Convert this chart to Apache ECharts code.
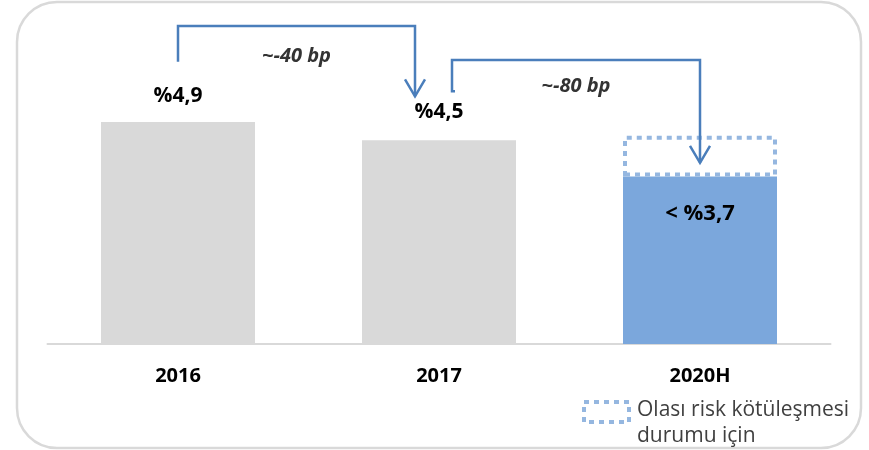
<!DOCTYPE html>
<html>
<head>
<meta charset="utf-8">
<script src="https://cdn.jsdelivr.net/npm/echarts@6/dist/echarts.min.js"></script>
<style>
  html, body { margin: 0; padding: 0; background: #ffffff; }
  #chart { width: 869px; height: 450px; }
</style>
</head>
<body>
<div id="chart"></div>
<script>
// Ratio by year, with the possible deterioration stacked on the last bar
const categories = ['2016', '2017', '2020H'];
const ratioValues = [4.9, 4.5, 3.7];
const riskValues = ['-', '-', 0.9];
const valueLabels = ['%4,9', '%4,5', '< %3,7'];
const riskLegendText = 'Olası risk kötüleşmesi\ndurumu için';
const changeLabels = ['~-40 bp', '~-80 bp'];

const FONT = '"Open Sans", "DejaVu Sans", sans-serif';
const GRAY = '#d9d9d9';
const BLUE = '#7ba7dc';
const DOT = '#95b7e0';
const ARROW = '#4a7ebb';

const chart = echarts.init(document.getElementById('chart'), null, { renderer: 'canvas' });

const labelDistance = [16, 18];

const option = {
  animation: false,
  backgroundColor: '#ffffff',
  grid: { left: 47.5, right: 38.5, top: 27, bottom: 106, containLabel: false },
  xAxis: {
    type: 'category',
    data: categories,
    axisLine: { show: true, lineStyle: { color: GRAY, width: 2 } },
    axisTick: { show: false },
    axisLabel: {
      margin: 22,
      color: '#000000',
      fontFamily: FONT,
      fontWeight: 'bold',
      fontSize: 20
    }
  },
  yAxis: {
    type: 'value',
    min: 0,
    max: 7,
    show: false,
    splitLine: { show: false }
  },
  series: [
    {
      name: 'ratio',
      type: 'bar',
      stack: 'total',
      barWidth: 154,
      data: ratioValues.map((v, i) => {
        const last = i === ratioValues.length - 1;
        return {
          value: v,
          itemStyle: { color: last ? BLUE : GRAY },
          label: last ? {
            show: true,
            position: 'insideTop',
            distance: 26,
            formatter: valueLabels[i],
            color: '#000000',
            fontFamily: FONT,
            fontWeight: 'bold',
            fontSize: 22
          } : {
            show: true,
            position: 'top',
            distance: labelDistance[i],
            formatter: valueLabels[i],
            color: '#000000',
            fontFamily: FONT,
            fontWeight: 'bold',
            fontSize: 21
          }
        };
      })
    },
    {
      name: 'risk',
      type: 'bar',
      stack: 'total',
      barWidth: 154,
      data: riskValues,
      itemStyle: {
        color: 'rgba(0,0,0,0)',
        borderColor: DOT,
        borderWidth: 4,
        borderType: [5, 5]
      },
      z: 3
    }
  ]
};

chart.setOption(option);

// Bracket arrows showing the change between periods, anchored to the axes
function px(catIndex, value) {
  return chart.convertToPixel({ xAxisIndex: 0, yAxisIndex: 0 }, [catIndex, value]);
}

const arrowDefs = [
  { from: 0, fromDx: 0, to: 1, toDx: -24, startV: 6.23, topV: 7.02, tipV: 5.47, textV: 6.36, hook: false },
  { from: 1, fromDx: 13, to: 2, toDx: 0, startV: 5.58, topV: 6.27, tipV: 4.0, textV: 5.7, hook: true }
];

const graphics = [];

// rounded frame around the chart
graphics.push({
  type: 'rect',
  shape: { x: 17, y: 2, width: 844, height: 446, r: 40 },
  style: { fill: 'none', stroke: '#d9d9d9', lineWidth: 2.5 },
  z: 0,
  silent: true
});

arrowDefs.forEach((a, k) => {
  const s = px(a.from, a.startV);
  const t = px(a.from, a.topV);
  const e = px(a.to, a.tipV);
  const x1 = s[0] + a.fromDx;
  const x2 = e[0] + a.toDx;
  const yTop = t[1];
  const points = [];
  if (a.hook) points.push([x1 + 3, s[1]]);
  points.push([x1, s[1]], [x1, yTop], [x2, yTop], [x2, e[1]]);
  graphics.push({
    type: 'polyline',
    shape: { points: points },
    style: { stroke: ARROW, lineWidth: 2.5, fill: 'none', lineJoin: 'miter' },
    z: 10
  });
  graphics.push({
    type: 'polyline',
    shape: { points: [[x2 - 10, e[1] - 17], [x2, e[1]], [x2 + 10, e[1] - 17]] },
    style: { stroke: ARROW, lineWidth: 2.5, fill: 'none', lineJoin: 'miter' },
    z: 10
  });
  const ty = px(a.from, a.textV)[1];
  graphics.push({
    type: 'text',
    x: (x1 + x2) / 2,
    y: ty,
    style: {
      text: changeLabels[k],
      fill: '#333333',
      font: 'italic bold 20px ' + FONT,
      align: 'center',
      verticalAlign: 'middle'
    },
    z: 10
  });
});

// key for the dotted box
graphics.push({
  type: 'rect',
  shape: { x: 584, y: 402, width: 45, height: 20 },
  style: { fill: 'none', stroke: DOT, lineWidth: 4, lineDash: [5, 5] },
  z: 10
});
graphics.push({
  type: 'text',
  x: 637,
  y: 397,
  style: {
    text: riskLegendText,
    fill: '#404040',
    font: '21px ' + FONT,
    lineHeight: 26,
    align: 'left',
    verticalAlign: 'top'
  },
  z: 10
});

chart.setOption({ graphic: { elements: graphics } });
</script>
</body>
</html>
